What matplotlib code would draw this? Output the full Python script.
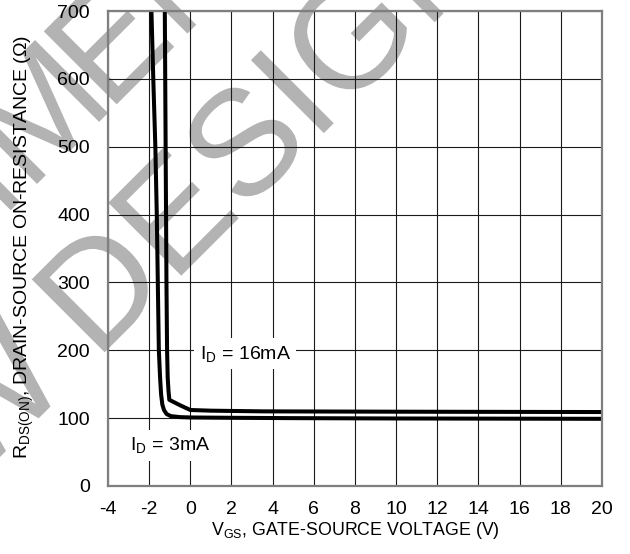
import numpy as np
import matplotlib
matplotlib.use("Agg")
import matplotlib.pyplot as plt
from matplotlib.textpath import TextPath
from matplotlib.patches import PathPatch
from matplotlib.font_manager import FontProperties
from matplotlib.transforms import Affine2D

plt.rcParams['font.family'] = ['Liberation Sans', 'DejaVu Sans']
plt.rcParams['mathtext.default'] = 'regular'
plt.rcParams['axes.unicode_minus'] = False

# I_D = 3 mA curve
vgs_3ma = [-1.89, -1.80, -1.70, -1.63, -1.58, -1.53, -1.47, -1.42, -1.36, -1.28, -1.15, -0.95, -0.5, 0, 2, 5, 10, 20]
rds_3ma = [700, 600, 500, 400, 300, 200, 160, 135, 120, 112, 106, 103, 101.5, 101, 100.5, 100, 99.5, 99]

# I_D = 16 mA curve
vgs_16ma = [-1.24, -1.22, -1.20, -1.18, -1.16, -1.13, -1.10, -1.06, -1.02, -0.5, 0, 1, 3.5, 10, 20]
rds_16ma = [700, 600, 500, 400, 300, 200, 160, 140, 127, 119, 112, 111, 110, 109.5, 109]

xticks = list(range(-4, 21, 2))
yticks = list(range(0, 701, 100))

W, H = 630, 554
fig = plt.figure(figsize=(W / 100, H / 100), dpi=100)
ax = fig.add_axes([108 / W, 1 - 486 / H, (602 - 108) / W, (486 - 11) / H])
ax.patch.set_alpha(0)

# watermark: text outlines placed in pixel coords (y from top)
wm_font = FontProperties(family='Liberation Sans')
def watermark(text, x, y, em=150, right=False):
    tp = TextPath((0, 0), text, size=em, prop=wm_font)
    dx = -tp.get_extents().x1 if right else 0
    tr = Affine2D().translate(dx, 0).rotate_deg(45).translate(x, H - y)
    fig.add_artist(PathPatch(tp, transform=tr, facecolor='#b3b3b3',
                             edgecolor='none', zorder=-1))

watermark("FOR NEW", 72, 385, right=True)
watermark("DESIGNS", 96, 361)
watermark("NOT RECOMM", 108, 113, right=True)
watermark("ENDED", 108, 113)

ax.plot(vgs_3ma, rds_3ma, color='black', lw=2.9, solid_joinstyle='round', zorder=4)
ax.plot(vgs_16ma, rds_16ma, color='black', lw=2.9, solid_joinstyle='round', zorder=4)

ax.set_xlim(-4, 20)
ax.set_ylim(0, 700)
ax.set_xticks(xticks)
ax.set_yticks(yticks)
ax.grid(True, color='#1a1a1a', lw=0.8, zorder=1)
ax.set_axisbelow(True)
ax.tick_params(length=0, labelsize=14)
ax.tick_params(axis='y', pad=13)
ax.tick_params(axis='x', pad=11)
for s in ax.spines.values():
    s.set_color('#7f7f7f')
    s.set_linewidth(1.6)
    s.set_zorder(5)

fig.text(355 / W, 1 - 535 / H, "V$_{GS}$, GATE-SOURCE VOLTAGE (V)", fontsize=12.8,
         ha='center', va='baseline')
fig.text(24 / W, 1 - 247 / H, "R$_{DS(ON)}$, DRAIN-SOURCE ON-RESISTANCE (Ω)", fontsize=14,
         rotation=90, ha='center', va='center')

box = dict(facecolor='white', edgecolor='none', pad=4)
ax.text(0.45, 195, "I$_D$ = 16mA", fontsize=14, va='center', ha='left', bbox=box, zorder=3)
ax.text(-2.95, 60, "I$_D$ = 3mA", fontsize=14, va='center', ha='left', bbox=box, zorder=3)

fig.savefig("out.png", dpi=100)
